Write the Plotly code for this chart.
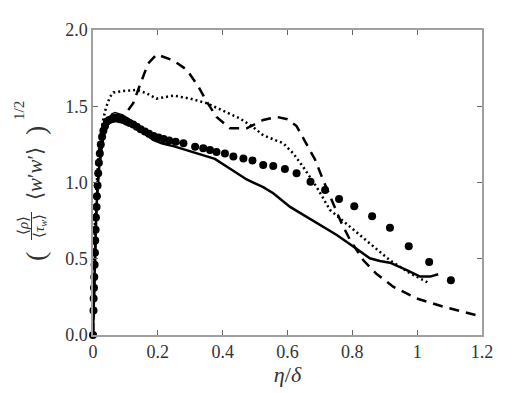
import plotly.graph_objects as go

# Solid line
solid_x = [0.0, 0.003, 0.006, 0.01, 0.015, 0.02, 0.03, 0.04, 0.05, 0.06, 0.073, 0.09, 0.114, 0.145, 0.16, 0.186, 0.212, 0.253, 0.32,
           0.376, 0.423, 0.474, 0.525, 0.556, 0.608, 0.65, 0.69, 0.752, 0.803, 0.854, 0.885, 0.916, 0.968, 1.009, 1.04, 1.065]
solid_y = [0.0, 0.3, 0.55, 0.8, 1.0, 1.12, 1.28, 1.37, 1.42, 1.44, 1.445, 1.435, 1.41, 1.35, 1.32, 1.28, 1.257, 1.235, 1.19,
           1.155, 1.09, 1.02, 0.97, 0.93, 0.84, 0.785, 0.732, 0.656, 0.58, 0.503, 0.485, 0.474, 0.426, 0.383, 0.383, 0.398]

# Thin solid line (second case, near the wall)
thin_x = [0.0, 0.005, 0.01, 0.02, 0.03, 0.045, 0.058, 0.068, 0.09, 0.11, 0.13, 0.16, 0.21, 0.25, 0.28]
thin_y = [0.0, 0.5, 0.85, 1.13, 1.3, 1.41, 1.45, 1.46, 1.445, 1.42, 1.39, 1.34, 1.285, 1.265, 1.255]

# Dashed line
dash_x = [0.0, 0.003, 0.006, 0.01, 0.015, 0.02, 0.03, 0.045, 0.06, 0.08, 0.1, 0.124, 0.145, 0.17, 0.196, 0.248, 0.289,
          0.325, 0.351, 0.381, 0.423, 0.474, 0.525, 0.567, 0.6, 0.628, 0.654, 0.685, 0.71, 0.741, 0.767, 0.793,
          0.834, 0.875, 0.926, 0.998, 1.08, 1.18]
dash_y = [0.0, 0.3, 0.55, 0.8, 1.0, 1.12, 1.28, 1.38, 1.42, 1.43, 1.45, 1.52, 1.64, 1.78, 1.84, 1.80, 1.74,
          1.63, 1.53, 1.43, 1.355, 1.355, 1.41, 1.43, 1.415, 1.37, 1.27, 1.15, 1.016, 0.864, 0.732, 0.623,
          0.49, 0.40, 0.317, 0.24, 0.186, 0.131]

# Dotted line
dot_x = [0.0, 0.003, 0.006, 0.01, 0.015, 0.02, 0.03, 0.04, 0.052, 0.063, 0.094, 0.135, 0.165, 0.196, 0.248, 0.30,
         0.351, 0.40, 0.453, 0.49, 0.525, 0.587, 0.618, 0.649, 0.69, 0.731, 0.793, 0.854, 0.916, 0.978, 1.034]
dot_y = [0.0, 0.45, 0.75, 0.95, 1.12, 1.25, 1.40, 1.49, 1.56, 1.59, 1.60, 1.607, 1.585, 1.55, 1.57, 1.55,
         1.52, 1.47, 1.42, 1.37, 1.31, 1.257, 1.19, 1.10, 0.97, 0.82, 0.71, 0.60, 0.49, 0.405, 0.343]

# Symbols (filled circles)
sym_x = [0.0, 0.0015, 0.002, 0.003, 0.004, 0.005, 0.006, 0.007, 0.008, 0.009, 0.011, 0.012, 0.014, 0.016, 0.018,
         0.021, 0.024, 0.028, 0.032, 0.037, 0.043, 0.05, 0.057, 0.065, 0.074, 0.083, 0.093, 0.103, 0.113, 0.124,
         0.135, 0.147, 0.16, 0.173, 0.187, 0.202, 0.218, 0.235, 0.255, 0.279, 0.315, 0.34, 0.361, 0.381, 0.407,
         0.433, 0.464, 0.492, 0.525, 0.556, 0.592, 0.628, 0.671, 0.716, 0.759, 0.806, 0.861, 0.916, 0.974, 1.037, 1.104]
sym_y = [0.0, 0.16, 0.24, 0.31, 0.38, 0.46, 0.54, 0.62, 0.69, 0.77, 0.84, 0.91, 0.98, 1.06, 1.13,
         1.19, 1.25, 1.30, 1.34, 1.37, 1.40, 1.41, 1.415, 1.42, 1.42, 1.415, 1.41, 1.40, 1.39, 1.38,
         1.365, 1.35, 1.335, 1.32, 1.305, 1.295, 1.285, 1.275, 1.268, 1.257, 1.235, 1.224, 1.213, 1.20, 1.19,
         1.17, 1.158, 1.145, 1.115, 1.108, 1.089, 1.06, 1.005, 0.951, 0.892, 0.844, 0.778, 0.704, 0.582, 0.479, 0.359]

x_ticks = [0, 0.2, 0.4, 0.6, 0.8, 1.0, 1.2]
x_tick_text = ["0", "0.2", "0.4", "0.6", "0.8", "1", "1.2"]
y_ticks = [0.0, 0.5, 1.0, 1.5, 2.0]
y_tick_text = ["0.0", "0.5", "1.0", "1.5", "2.0"]

fig = go.Figure()
fig.add_trace(go.Scatter(x=dash_x, y=dash_y, mode="lines", line=dict(color="black", width=2.5, dash="10px,7px"),
                         cliponaxis=False))
fig.add_trace(go.Scatter(x=dot_x, y=dot_y, mode="lines", line=dict(color="black", width=2.5, dash="2px,3px"),
                         cliponaxis=False))
fig.add_trace(go.Scatter(x=thin_x, y=thin_y, mode="lines", line=dict(color="black", width=1.3), cliponaxis=False))
fig.add_trace(go.Scatter(x=solid_x, y=solid_y, mode="lines", line=dict(color="black", width=2.5), cliponaxis=False))
fig.add_trace(go.Scatter(x=sym_x, y=sym_y, mode="markers", marker=dict(color="black", size=8), cliponaxis=False))

font_family = "Liberation Serif"
axis_common = dict(showgrid=False, zeroline=False, showline=True, linecolor="#a0a0a0", linewidth=1.5,
                   mirror="ticks", ticks="inside", ticklen=5, tickcolor="#666666", tickwidth=1,
                   tickfont=dict(family=font_family, size=18, color="#333333"))

# Page-pixel placement helpers: plot area left edge at page x=93, bottom at page y=335
PLOT_L, PLOT_B = 93, 335


def ylab(text, px, py, size):
    fig.add_annotation(text=text, xref="paper", yref="paper", x=0, y=0, xanchor="center", yanchor="middle",
                       xshift=px - PLOT_L, yshift=PLOT_B - py, textangle=-90, showarrow=False,
                       font=dict(family=font_family, size=size, color="#333333"))


ylab("(", 35, 257, 28)
ylab("⟨<i>ρ</i>⟩", 23, 226, 15)
ylab("⟨<i>τ<sub>w</sub></i>⟩", 40, 226, 15)
ylab("⟨<i>w</i>′<i>w</i>′⟩", 35, 174, 21)
ylab(")", 35, 131, 28)
ylab("1/2", 19, 111, 15)
fig.add_shape(type="line", xref="paper", yref="paper",
              x0=(31.5 - PLOT_L) / 389, x1=(31.5 - PLOT_L) / 389,
              y0=(PLOT_B - 240) / 305, y1=(PLOT_B - 212) / 305,
              line=dict(color="#333333", width=1))

fig.update_layout(
    width=504, height=385,
    margin=dict(l=85, r=30, t=22, b=58),
    plot_bgcolor="white", paper_bgcolor="white",
    showlegend=False,
    font=dict(family=font_family, color="#333333"),
    xaxis=dict(range=[0, 1.2], tickvals=x_ticks, ticktext=x_tick_text,
               title=dict(text="<i>η</i>/<i>δ</i>", font=dict(size=22, family=font_family), standoff=2),
               **axis_common),
    yaxis=dict(range=[0, 2.0], tickvals=y_ticks, ticktext=y_tick_text, **axis_common),
)
fig.write_html("out.html")
